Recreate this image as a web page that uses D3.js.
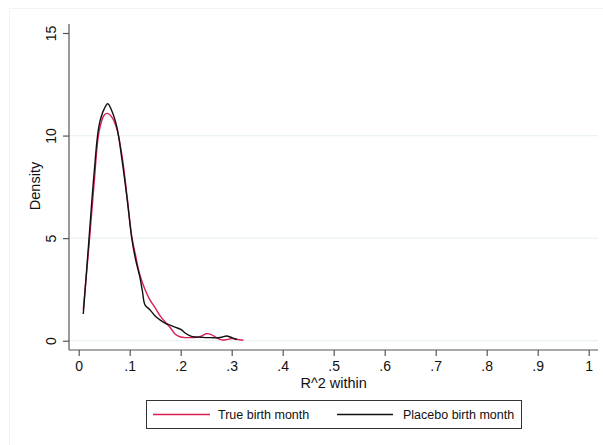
<!DOCTYPE html>
<html><head><meta charset="utf-8">
<script src="https://cdn.jsdelivr.net/npm/d3@7"></script>
<style>body{margin:0;background:#fff}svg{display:block}text{font-family:"Liberation Sans",Arial,sans-serif;fill:#111}</style>
</head><body><svg id="c" width="603" height="445"></svg>
<script>
const xTicks=[0,0.1,0.2,0.3,0.4,0.5,0.6,0.7,0.8,0.9,1];
const xTickLabels=["0",".1",".2",".3",".4",".5",".6",".7",".8",".9","1"];
const yTicks=[0,5,10,15];
const gridY=[0,5,10];
const seriesNames=["True birth month","Placebo birth month"];
const trueX=[0.009,0.02,0.03,0.04,0.05,0.057,0.065,0.075,0.085,0.095,0.104,0.112,0.12,0.13,0.14,0.15,0.16,0.17,0.18,0.19,0.2,0.21,0.22,0.23,0.24,0.25,0.26,0.27,0.28,0.29,0.3,0.31,0.323];
const trueY=[1.5,4.6,7.6,10.2,11.0,11.08,10.9,10.3,9.0,7.0,5.1,4.1,3.2,2.5,1.98,1.6,1.2,0.9,0.62,0.3,0.18,0.15,0.15,0.16,0.22,0.34,0.3,0.15,0.04,0.05,0.1,0.07,0.02];
const placX=[0.009,0.02,0.03,0.04,0.05,0.057,0.065,0.075,0.085,0.095,0.104,0.112,0.12,0.125,0.13,0.14,0.15,0.16,0.17,0.18,0.19,0.2,0.21,0.22,0.23,0.24,0.25,0.26,0.27,0.28,0.29,0.3,0.31];
const placY=[1.3,4.9,8.1,10.5,11.3,11.55,11.2,10.4,8.8,6.9,5.0,3.9,3.1,2.4,1.75,1.5,1.2,1.0,0.85,0.75,0.65,0.55,0.35,0.22,0.18,0.17,0.15,0.15,0.14,0.17,0.23,0.15,0.06];

const svg=d3.select("#c");
const x=d3.scaleLinear().domain([0,1]).range([78.7,588.7]);
const y=d3.scaleLinear().domain([0,15]).range([340.7,33]);

// outer faint frame
svg.append("rect").attr("x",9.5).attr("y",8.5).attr("width",620).attr("height",460).attr("fill","none").attr("stroke","#f3f3f3");

// grid
svg.append("g").selectAll("line").data(gridY).join("line")
 .attr("x1",69).attr("x2",598).attr("y1",d=>y(d)).attr("y2",d=>y(d))
 .attr("stroke","#eaf2f3").attr("stroke-width",1.2);

// axes
const xAxis=svg.append("g").attr("transform","translate(0,350)")
 .call(d3.axisBottom(x).tickValues(xTicks).tickFormat((d,i)=>xTickLabels[i]).tickSize(6).tickSizeOuter(0));
xAxis.select(".domain").attr("d","M69,0H598");
const yAxis=svg.append("g").attr("transform","translate(69,0)")
 .call(d3.axisLeft(y).tickValues(yTicks).tickSize(6).tickSizeOuter(0));
yAxis.select(".domain").attr("d","M0,24V350");
[xAxis,yAxis].forEach(a=>{a.selectAll("path,line").attr("stroke","#555").attr("stroke-width",1.2);
 a.selectAll("text").attr("font-size",14).attr("font-family","Liberation Sans, Arial, sans-serif").attr("fill","#111");});
xAxis.selectAll("text").attr("dy","0.71em").attr("y",11);
yAxis.selectAll("text").attr("text-anchor","middle").attr("x",0).attr("y",0).attr("dy","0.35em")
 .attr("transform","translate(-18,0) rotate(-90)");

svg.append("text").attr("x",333.7).attr("y",388).attr("text-anchor","middle").attr("font-size",14.5).text("R^2 within");
svg.append("text").attr("transform","translate(35,186) rotate(-90)").attr("text-anchor","middle").attr("dy","0.35em").attr("font-size",14.5).text("Density");

const line=d3.line().x(d=>x(d[0])).y(d=>y(d[1])).curve(d3.curveCatmullRom.alpha(0.5));
const trueData=trueX.map((v,i)=>[v,trueY[i]]);
const placData=placX.map((v,i)=>[v,placY[i]]);
const red="#d81e50";
svg.append("path").datum(trueData).attr("d",line).attr("fill","none").attr("stroke",red).attr("stroke-width",1.4);
svg.append("path").datum(placData).attr("d",line).attr("fill","none").attr("stroke","#111").attr("stroke-width",1.4);

// legend
const lg=svg.append("g");
lg.append("rect").attr("x",146.5).attr("y",400.5).attr("width",375).attr("height",28).attr("fill","#fff").attr("stroke","#333").attr("stroke-width",1);
const items=[{name:seriesNames[0],c:red,x1:153,x2:210,tx:218},{name:seriesNames[1],c:"#111",x1:337,x2:393,tx:403}];
items.forEach(it=>{
 lg.append("line").attr("x1",it.x1).attr("x2",it.x2).attr("y1",414.5).attr("y2",414.5).attr("stroke",it.c).attr("stroke-width",1.4);
 lg.append("text").attr("x",it.tx).attr("y",414.5).attr("dy","0.35em").attr("font-size",12.5).text(it.name);
});
</script></body></html>
